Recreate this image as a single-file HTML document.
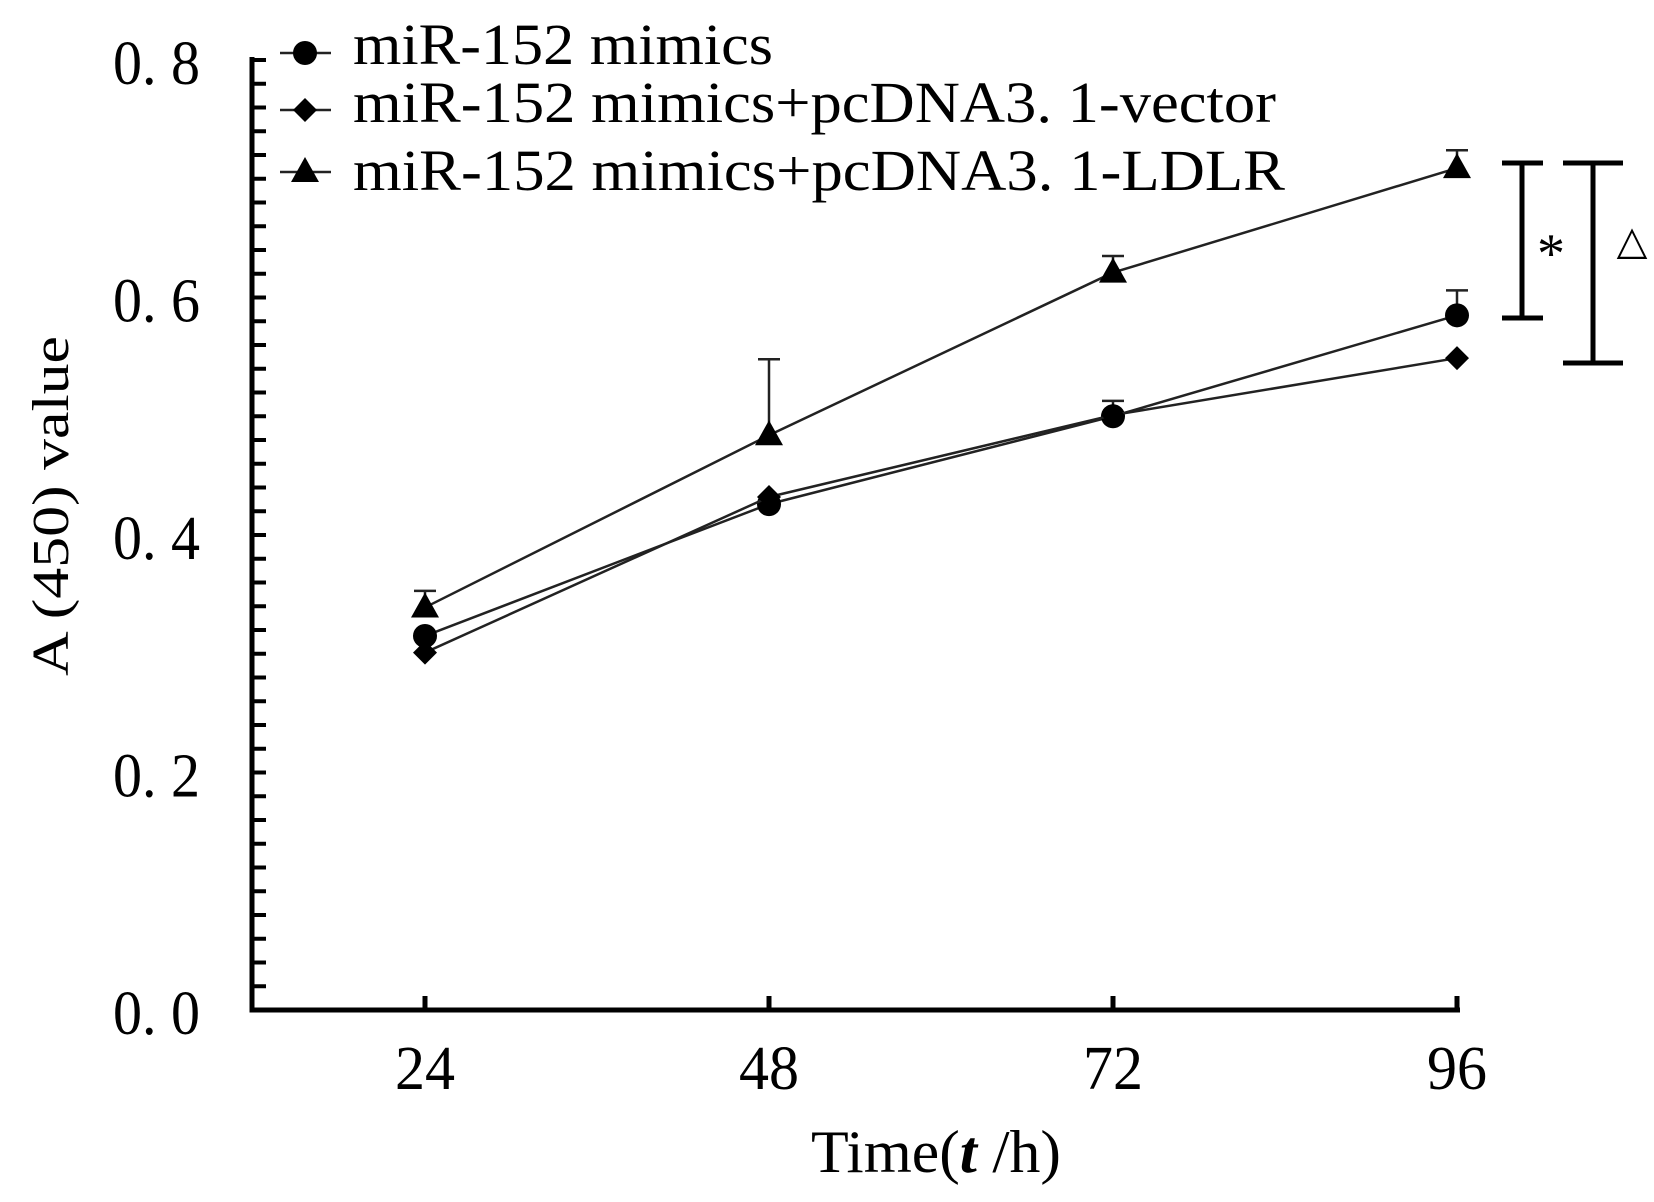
<!DOCTYPE html>
<html><head><meta charset="utf-8"><style>
html,body{margin:0;padding:0;background:#fff;}
svg{display:block;font-family:"Liberation Serif",serif;}
</style></head><body>
<svg id="chart" width="1654" height="1202" viewBox="0 0 1654 1202">
<g id="axes"></g><g id="series"></g><g id="legend"></g>
<g stroke="#000" stroke-width="5" fill="none">
<path d="M1502 163H1543M1522 163V318M1502 318H1543"/>
<path d="M1563 163H1623M1593 163V363M1563 363H1623"/>
</g>
<text x="1551" y="272" font-size="56" text-anchor="middle">*</text>
<text x="1632" y="254" font-size="40" text-anchor="middle" font-family="DejaVu Sans">△</text>
<text transform="translate(68,506) rotate(-90)" font-size="52" text-anchor="middle" textLength="340" lengthAdjust="spacingAndGlyphs">A (450) value</text>
<text x="936" y="1172" font-size="60" text-anchor="middle" textLength="250" lengthAdjust="spacingAndGlyphs">Time(<tspan font-style="italic" font-weight="bold">t</tspan> /h)</text>
</svg>
<script>
const categories=[24,48,72,96];
const seriesNames=["miR-152 mimics","miR-152 mimics+pcDNA3. 1-vector","miR-152 mimics+pcDNA3. 1-LDLR"];
const circleVals=[0.315,0.426,0.500,0.585];
const circleErr=[0,0,0.013,0.021];
const diamondVals=[0.301,0.432,0.501,0.549];
const diamondErr=[0,0,0,0];
const triVals=[0.339,0.484,0.621,0.709];
const triErr=[0.014,0.064,0.014,0.015];
const yTicks=[0,0.2,0.4,0.6,0.8];
const yTickLabels=["0. 0","0. 2","0. 4","0. 6","0. 8"];

const NS="http://www.w3.org/2000/svg";
const x0=252,y0=1010,yTop=60;
const xs=v=>425+(v-24)/24*344;
const ys=v=>y0-v/0.8*(y0-yTop);
function mk(tag,attrs,parent){const e=document.createElementNS(NS,tag);for(const k in attrs)e.setAttribute(k,attrs[k]);parent.appendChild(e);return e;}
const axes=document.getElementById('axes'),ser=document.getElementById('series'),leg=document.getElementById('legend');
let a=mk('path',{d:`M${x0} 57V${y0}H1460`,stroke:'#000','stroke-width':5,fill:'none'},axes);


for(let i=0;i<=40;i++){const y=ys(i*0.02);
 let t=mk('line',{x1:x0,x2:x0+14,y1:y,y2:y,stroke:'#000','stroke-width':4},axes);
 
 }
yTicks.forEach((v,i)=>{let t=mk('text',{x:113,y:ys(v)+24,'font-size':62,textLength:87,lengthAdjust:'spacingAndGlyphs'},axes);t.textContent=yTickLabels[i];
 
 });
categories.forEach(c=>{let t=mk('line',{x1:xs(c),x2:xs(c),y1:y0,y2:y0-14,stroke:'#000','stroke-width':5},axes);
 
 
 let l=mk('text',{x:xs(c)-30,y:1089,'font-size':62,textLength:60,lengthAdjust:'spacingAndGlyphs'},axes);l.textContent=c;
 
 });
function marker(type,x,y,p){
 if(type==0)return mk('circle',{cx:x,cy:y,r:12,fill:'#000'},p);
 if(type==1)return mk('path',{d:`M${x} ${y-12}L${x+12} ${y}L${x} ${y+12}L${x-12} ${y}Z`,fill:'#000'},p);
 return mk('path',{d:`M${x} ${y-15}L${x+14} ${y+10}L${x-14} ${y+10}Z`,fill:'#000'},p);}
const all=[[circleVals,circleErr],[diamondVals,diamondErr],[triVals,triErr]];
all.forEach(([vals,err],s)=>{
 const g=mk('g',{},ser);
 
 
 const pl=mk('polyline',{points:vals.map((v,i)=>xs(categories[i])+','+ys(v)).join(' '),fill:'none',stroke:'#222','stroke-width':2.5},g);
 
 
 vals.forEach((v,i)=>{const x=xs(categories[i]);
  if(err[i]>0){const e=mk('path',{d:`M${x} ${ys(v)}V${ys(v+err[i])}M${x-11} ${ys(v+err[i])}H${x+11}`,stroke:'#222','stroke-width':2.5,fill:'none'},g);
   
   }
  const m=marker(s,x,ys(v),g);
  
  });
});
const legY=[53,110,172];
const legBase=[64,122,190];
const legW=[420,923,932];
seriesNames.forEach((n,i)=>{
 const g=mk('g',{},leg);
 
 
 mk('line',{x1:280,x2:331,y1:legY[i],y2:legY[i],stroke:'#222','stroke-width':2.5},g);
 marker(i,305,legY[i],g);
 const t=mk('text',{x:353,y:legBase[i],'font-size':58,textLength:legW[i],lengthAdjust:'spacingAndGlyphs'},g);t.textContent=n;
});
</script>
</body></html>
